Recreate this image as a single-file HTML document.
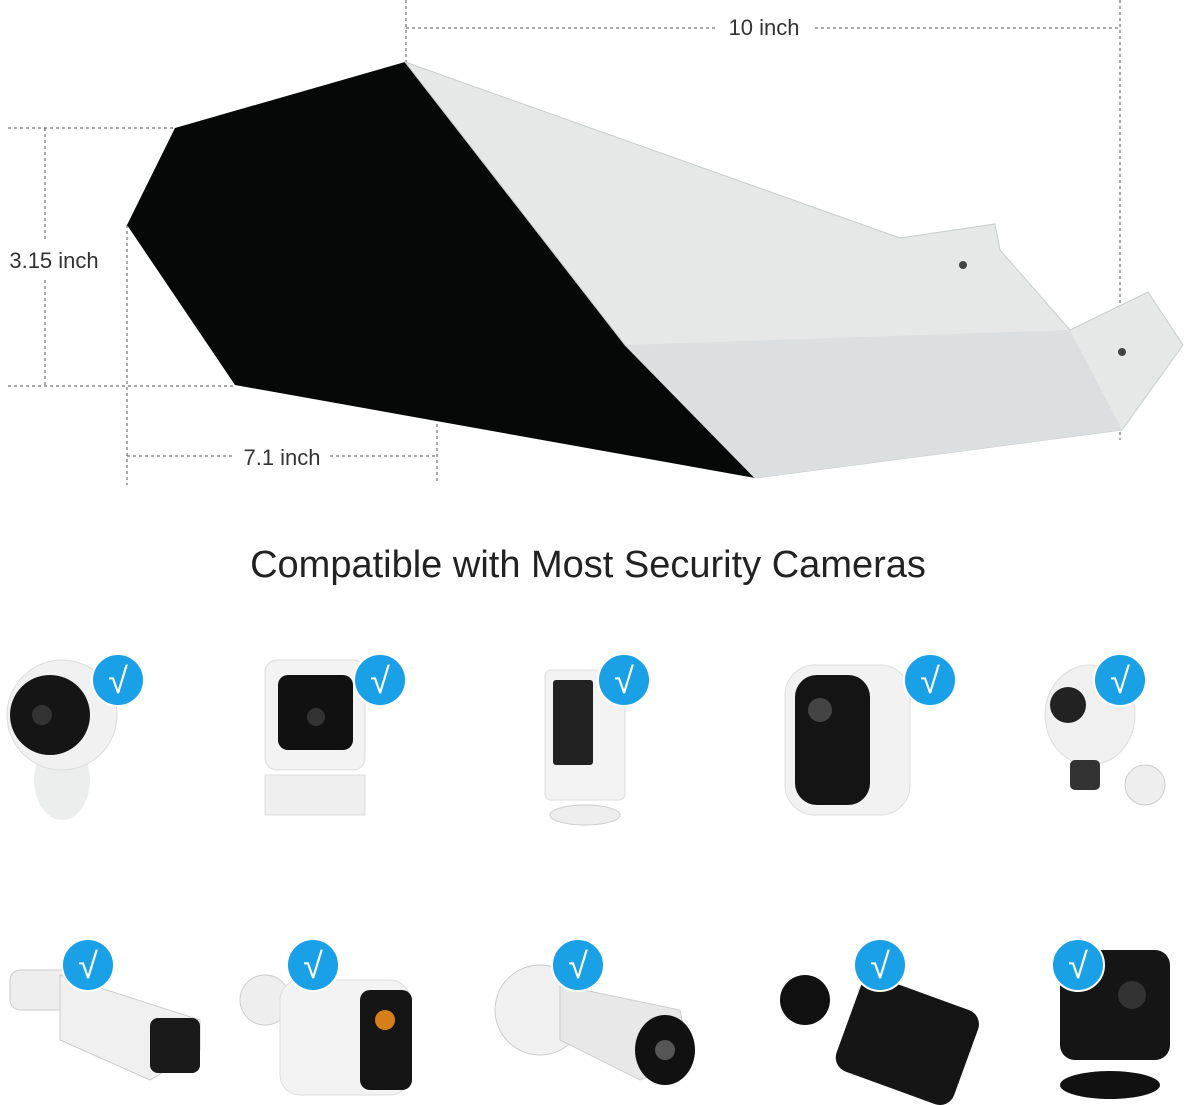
<!DOCTYPE html>
<html><head><meta charset="utf-8"><style>
html,body{margin:0;padding:0;background:#fff;}
svg{display:block;}
text{font-family:"Liberation Sans",sans-serif;}
</style></head><body>
<svg width="1185" height="1105" viewBox="0 0 1185 1105" xmlns="http://www.w3.org/2000/svg">
<rect width="1185" height="1105" fill="#fff"/>
<!-- dimension lines -->
<g stroke="#555" stroke-width="1" stroke-dasharray="3,3" fill="none">
<line x1="406" y1="0" x2="406" y2="62"/>
<line x1="1120" y1="0" x2="1120" y2="440"/>
<line x1="406" y1="28" x2="715" y2="28"/>
<line x1="815" y1="28" x2="1120" y2="28"/>
<line x1="8" y1="128" x2="175" y2="128"/>
<line x1="8" y1="386" x2="235" y2="386"/>
<line x1="45" y1="128" x2="45" y2="240"/>
<line x1="45" y1="280" x2="45" y2="386"/>
<line x1="127" y1="225" x2="127" y2="485"/>
<line x1="437" y1="130" x2="437" y2="482"/>
<line x1="127" y1="456" x2="232" y2="456"/>
<line x1="330" y1="456" x2="437" y2="456"/>
</g>
<text x="764" y="35" font-size="22" fill="#333" text-anchor="middle">10 inch</text>
<text x="54" y="268" font-size="22" fill="#333" text-anchor="middle">3.15 inch</text>
<text x="282" y="465" font-size="22" fill="#333" text-anchor="middle">7.1 inch</text>
<!-- hood -->
<polygon points="175,128 405,62 625,345 755,478 235,385 127,225" fill="#050807"/>
<polygon points="405,62 900,238 995,224 1000,250 1070,330 1148,292 1183,345 1122,430 755,478 625,345" fill="#e6e8e8" stroke="#c8cccc" stroke-width="1"/>
<polygon points="625,345 1070,330 1122,430 755,478" fill="#dcdfdf"/>
<circle cx="963" cy="265" r="4" fill="#444"/>
<circle cx="1122" cy="352" r="4" fill="#444"/>
<text x="588" y="577" font-size="38" fill="#222" text-anchor="middle">Compatible with Most Security Cameras</text>
<!-- row 1 cameras -->
<g>
<ellipse cx="62" cy="780" rx="28" ry="40" fill="#eceeee"/>
<circle cx="62" cy="715" r="55" fill="#f1f1f1" stroke="#ddd"/>
<circle cx="50" cy="715" r="40" fill="#151515"/>
<circle cx="42" cy="715" r="10" fill="#333"/>
<rect x="265" y="660" width="100" height="110" rx="12" fill="#f3f3f3" stroke="#ddd"/>
<rect x="278" y="675" width="75" height="75" rx="10" fill="#111"/>
<circle cx="316" cy="717" r="9" fill="#333"/>
<rect x="265" y="775" width="100" height="40" fill="#efefef" stroke="#ddd"/>
<rect x="545" y="670" width="80" height="130" rx="6" fill="#f3f3f3" stroke="#ddd"/>
<rect x="553" y="680" width="40" height="85" rx="3" fill="#222"/>
<ellipse cx="585" cy="815" rx="35" ry="10" fill="#eee" stroke="#ccc"/>
<rect x="785" y="665" width="125" height="150" rx="30" fill="#f2f2f2" stroke="#ddd"/>
<rect x="795" y="675" width="75" height="130" rx="22" fill="#141414"/>
<circle cx="820" cy="710" r="12" fill="#444"/>
<ellipse cx="1090" cy="715" rx="45" ry="50" fill="#f0f0f0" stroke="#ddd"/>
<circle cx="1068" cy="705" r="18" fill="#222"/>
<rect x="1070" y="760" width="30" height="30" rx="5" fill="#333"/>
<circle cx="1145" cy="785" r="20" fill="#eee" stroke="#ccc"/>
</g>
<!-- row 2 cameras -->
<g>
<rect x="10" y="970" width="60" height="40" rx="10" fill="#eee" stroke="#ccc"/>
<polygon points="60,975 200,1020 200,1050 150,1080 60,1040" fill="#f0f0f0" stroke="#ccc"/>
<rect x="150" y="1018" width="50" height="55" rx="8" fill="#1a1a1a"/>
<circle cx="265" cy="1000" r="25" fill="#eee" stroke="#ccc"/>
<rect x="280" y="980" width="130" height="115" rx="20" fill="#f3f3f3" stroke="#ddd"/>
<rect x="360" y="990" width="52" height="100" rx="10" fill="#151515"/>
<circle cx="385" cy="1020" r="10" fill="#d67f1a"/>
<circle cx="540" cy="1010" r="45" fill="#f0f0f0" stroke="#ccc"/>
<polygon points="560,985 680,1010 690,1060 640,1080 560,1040" fill="#e8e8e8" stroke="#ccc"/>
<ellipse cx="665" cy="1050" rx="30" ry="35" fill="#111"/>
<circle cx="665" cy="1050" r="10" fill="#555"/>
<circle cx="805" cy="1000" r="25" fill="#111"/>
<rect x="845" y="990" width="125" height="100" rx="15" fill="#151515" transform="rotate(20 905 1040)"/>
<rect x="1060" y="950" width="110" height="110" rx="15" fill="#151515"/>
<circle cx="1132" cy="995" r="14" fill="#333"/>
<ellipse cx="1110" cy="1085" rx="50" ry="14" fill="#111"/>
</g>
<!-- check marks -->
<g fill="#19a0e6" stroke="#fff" stroke-width="2">
<circle cx="118" cy="680" r="26"/><circle cx="380" cy="680" r="26"/><circle cx="624" cy="680" r="26"/><circle cx="930" cy="680" r="26"/><circle cx="1120" cy="680" r="26"/>
<circle cx="88" cy="965" r="26"/><circle cx="313" cy="965" r="26"/><circle cx="578" cy="965" r="26"/><circle cx="880" cy="965" r="26"/><circle cx="1078" cy="965" r="26"/>
</g>
<g fill="#fff" font-size="36" text-anchor="middle">
<text x="118" y="693">√</text><text x="380" y="693">√</text><text x="624" y="693">√</text><text x="930" y="693">√</text><text x="1120" y="693">√</text>
<text x="88" y="978">√</text><text x="313" y="978">√</text><text x="578" y="978">√</text><text x="880" y="978">√</text><text x="1078" y="978">√</text>
</g>
</svg>
</body></html>
